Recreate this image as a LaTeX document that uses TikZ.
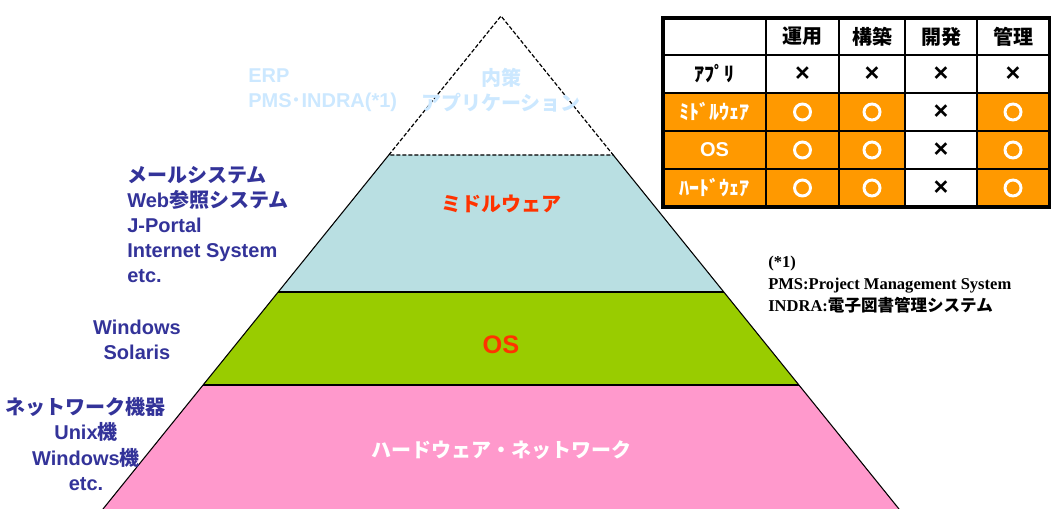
\documentclass[tikz,border=0pt]{standalone}
\usepackage{fontspec}
\setmainfont{Liberation Sans}
\newfontfamily\jp{Noto Sans CJK JP}
\newfontfamily\tms{Liberation Serif}
\definecolor{layblue}{HTML}{B9DFE2}
\definecolor{laygreen}{HTML}{99CC00}
\definecolor{laypink}{HTML}{FF99CC}
\definecolor{tblorange}{HTML}{FF9900}
\definecolor{bluetxt}{HTML}{333399}
\definecolor{redtxt}{HTML}{FF3300}
\definecolor{fadetxt}{HTML}{CCE8FF}
\newcommand\J[1]{{\jp\bfseries #1}}
\begin{document}
\begin{tikzpicture}[x=0.75pt,y=-0.75pt,
  edge/.style={draw=black,line width=0.8pt},
  dashedge/.style={draw=black,line width=0.9pt,dash pattern=on 3pt off 1.5pt},
  sidetxt/.style={text=bluetxt,font=\bfseries\fontsize{15}{18.6}\selectfont,inner sep=0pt},
  fadebox/.style={text=fadetxt,font=\bfseries\fontsize{15}{19}\selectfont,inner sep=0pt},
  layertxt/.style={font=\bfseries\fontsize{15}{18}\selectfont,inner sep=0pt},
  hdr/.style={font=\jp\bfseries\fontsize{15}{15}\selectfont,text=black,inner sep=0pt},
  rowlab/.style={font=\jp\bfseries\fontsize{15}{15}\selectfont,inner sep=0pt},
  cross/.style={font=\bfseries\fontsize{19}{19}\selectfont,text=black,inner sep=0pt},
  ok/.style={circle,draw=white,line width=2.2pt,minimum size=12pt,inner sep=0pt},
  grid/.style={draw=black,line width=1.2pt}
]
\useasboundingbox (0,0) rectangle (1051,509);
% pyramid coordinates
\coordinate (apex) at (501,16);
\coordinate (aL) at (388.8,155); \coordinate (aR) at (613.2,155);
\coordinate (bL) at (278.2,292); \coordinate (bR) at (723.8,292);
\coordinate (cL) at (203.1,385); \coordinate (cR) at (798.9,385);
\coordinate (dL) at (103,509);   \coordinate (dR) at (899,509);
\fill[layblue] (aL)--(aR)--(bR)--(bL)--cycle;
\fill[laygreen] (bL)--(bR)--(cR)--(cL)--cycle;
\fill[laypink] (cL)--(cR)--(dR)--(dL)--cycle;
\draw[edge] (aL)--(bL)--(cL)--(dL);
\draw[edge] (aR)--(bR)--(cR)--(dR);
\draw[edge] (bL)--(bR);
\draw[edge] (cL)--(cR);
\draw[dashedge] (aL)--(apex)--(aR)--cycle;

% layer labels
\node[layertxt,text=redtxt] (mw) at (501,204) {\J{ミドルウェア}};
\node[layertxt,text=redtxt,font=\bfseries\fontsize{19}{19}\selectfont] (os) at (501,345) {OS};
\node[layertxt,text=white] (hw) at (501,450) {\J{ハードウェア・ネットワーク}};

% faded top labels
\node[fadebox,anchor=west,align=left] (erp) at (248,90) {ERP\\PMS\J{･}INDRA(*1)};
\node[fadebox,align=center] (naisaku) at (501,90) {\J{内策}\\\J{アプリケーション}};

% side labels
\node[sidetxt,anchor=west,align=left] (apps) at (127,224.5)
  {\J{メールシステム}\\Web\J{参照システム}\\J-Portal\\Internet System\\etc.};
\node[sidetxt,align=center] (oslist) at (137,339.5) {Windows\\Solaris};
\node[sidetxt,align=center,font=\bfseries\fontsize{15}{19}\selectfont] (hwlist) at (86,444)
  {\J{ネットワーク機器}\\Unix\J{機}\\Windows\J{機}\\etc.};

% footnote
\node[anchor=west,align=left,inner sep=0pt,font=\tms\bfseries\fontsize{12.4}{16.2}\selectfont] (note) at (768,284.5)
  {(*1)\\PMS:Project Management System\\INDRA:\J{電子図書管理システム}};

% table
\fill[tblorange] (663,93) rectangle (905,207);
\fill[tblorange] (977,93) rectangle (1050,207);
\draw[grid] (766,18)--(766,207);
\draw[grid] (839,18)--(839,207);
\draw[grid] (905,18)--(905,207);
\draw[grid] (977,18)--(977,207);
\draw[grid] (663,55)--(1050,55);
\draw[grid] (663,93)--(1050,93);
\draw[grid] (663,131)--(1050,131);
\draw[grid] (663,169)--(1050,169);
\draw[draw=black,line width=2.4pt] (663,18) rectangle (1050,207);

\node[hdr] (h1) at (802.5,36.5) {運用};
\node[hdr] (h2) at (872,36.5) {構築};
\node[hdr] (h3) at (941,36.5) {開発};
\node[hdr] (h4) at (1013,36.5) {管理};

\node[rowlab,text=black] (r1) at (714.5,74) {ｱﾌﾟﾘ};
\node[rowlab,text=white] (r2) at (714.5,112) {ﾐﾄﾞﾙｳｪｱ};
\node[rowlab,text=white,font=\bfseries\fontsize{15}{15}\selectfont] (r3) at (714.5,150) {OS};
\node[rowlab,text=white] (r4) at (714.5,188) {ﾊｰﾄﾞｳｪｱ};

\node[cross] (x11) at (802.5,74) {×};
\node[cross] (x12) at (872,74) {×};
\node[cross] (x13) at (941,74) {×};
\node[cross] (x14) at (1013,74) {×};

\node[ok] (o21) at (802.5,112) {};
\node[ok] (o22) at (872,112) {};
\node[cross] (x23) at (941,112) {×};
\node[ok] (o24) at (1013,112) {};

\node[ok] (o31) at (802.5,150) {};
\node[ok] (o32) at (872,150) {};
\node[cross] (x33) at (941,150) {×};
\node[ok] (o34) at (1013,150) {};

\node[ok] (o41) at (802.5,188) {};
\node[ok] (o42) at (872,188) {};
\node[cross] (x43) at (941,188) {×};
\node[ok] (o44) at (1013,188) {};
\end{tikzpicture}
\end{document}
